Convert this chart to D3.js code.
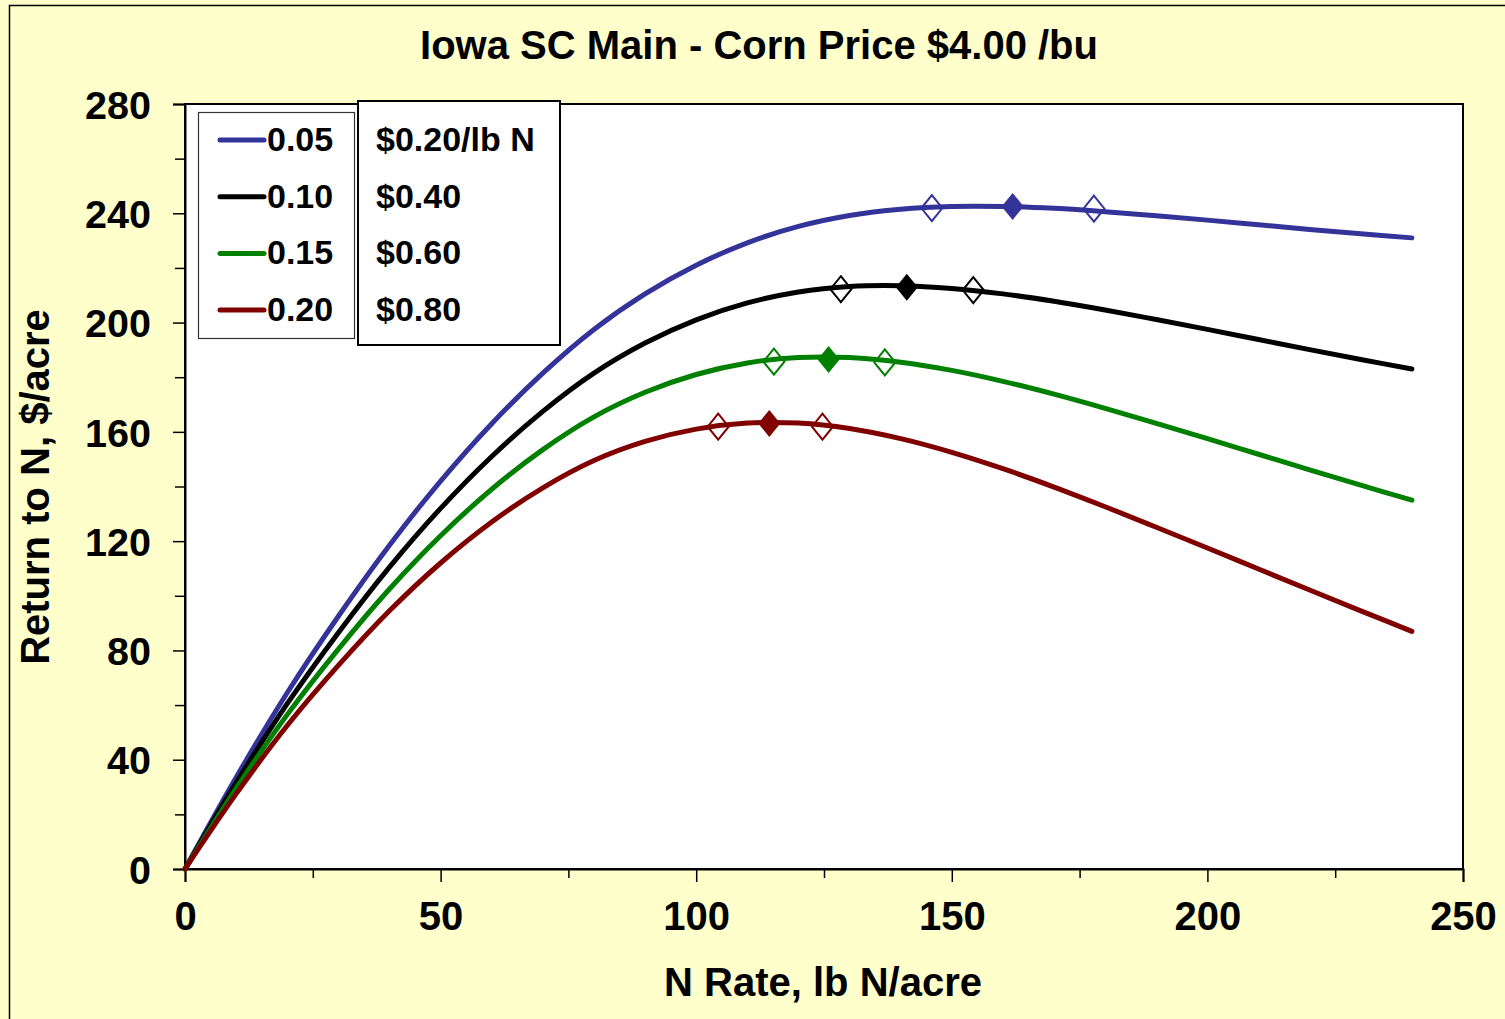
<!DOCTYPE html>
<html>
<head>
<meta charset="utf-8">
<script src="https://cdn.jsdelivr.net/npm/d3@7"></script>
<style>
  html, body { margin: 0; padding: 0; background: #ffffcc; }
  svg text { font-family: Arial, "Liberation Sans", sans-serif; font-weight: bold; fill: #000; }
</style>
</head>
<body>
<div id="chart"></div>
<script>
// N rates (lb N/acre) at which the curves were read
const nRates = [0, 10, 20, 30, 40, 50, 60, 70, 80, 90, 100, 110, 120,
	130, 140, 150, 160, 170, 180, 190, 200, 210, 220, 230, 240];

// Return to N ($/acre), one array per price ratio
const ratio005 = [0, 33.5, 64.5, 92.5, 118.5, 142, 163, 181.5, 197.5, 210.5, 221, 229.2, 235.2,
	239.2, 241.5, 242.5, 242.5, 241.8, 240.6, 239.1, 237.5, 235.8, 234.1, 232.5, 231.0];
const ratio010 = [0, 31.5, 60.5, 86.5, 110.5, 132, 151, 167.5, 181.5, 192.5, 201, 207.2, 211.2,
	213.2, 213.5, 212.5, 210.5, 207.8, 204.6, 201.1, 197.5, 193.8, 190.1, 186.5, 183.0];
const ratio015 = [0, 29.5, 56.5, 80.5, 102.5, 122, 139, 153.5, 165.5, 174.5, 181, 185.2, 187.2,
	187.2, 185.5, 182.5, 178.5, 173.8, 168.6, 163.1, 157.5, 151.8, 146.1, 140.5, 135.0];
const ratio020 = [0, 27.5, 52.5, 74.5, 94.5, 112, 127, 139.5, 149.5, 156.5, 161, 163.2, 163.2,
	161.2, 157.5, 152.5, 146.5, 139.8, 132.6, 125.1, 117.5, 109.8, 102.1, 94.5, 87.0];

// MRTN (filled diamond) and profitable range ends (open diamonds): [N, return]
const mrtn005 = [161.9, 242.5], range005 = [[146.1, 241.9], [177.8, 241.7]];
const mrtn010 = [141.2, 212.9], range010 = [[128.3, 212.2], [154.2, 211.9]];
const mrtn015 = [125.9, 186.5], range015 = [[115.2, 185.7], [136.9, 185.4]];
const mrtn020 = [114.3, 163.1], range020 = [[104.3, 161.9], [124.7, 161.9]];

const ratioLabels = ["0.05", "0.10", "0.15", "0.20"];
const priceLabels = ["$0.20/lb N", "$0.40", "$0.60", "$0.80"];
const colors = ["#333399", "#000000", "#008000", "#800000"];

const xTicks = [0, 50, 100, 150, 200, 250];
const xMinor = [25, 75, 125, 175, 225];
const yTicks = [0, 40, 80, 120, 160, 200, 240, 280];
const yMinor = [20, 60, 100, 140, 180, 220, 260];

const titleText = "Iowa SC Main - Corn Price $4.00 /bu";
const xTitle = "N Rate, lb N/acre";
const yTitle = "Return to N, $/acre";

const series = [
	{ label: ratioLabels[0], price: priceLabels[0], color: colors[0], values: ratio005, mrtn: mrtn005, range: range005 },
	{ label: ratioLabels[1], price: priceLabels[1], color: colors[1], values: ratio010, mrtn: mrtn010, range: range010 },
	{ label: ratioLabels[2], price: priceLabels[2], color: colors[2], values: ratio015, mrtn: mrtn015, range: range015 },
	{ label: ratioLabels[3], price: priceLabels[3], color: colors[3], values: ratio020, mrtn: mrtn020, range: range020 }
];

const params = {
	width: 1505, height: 1019,
	left: 185, right: 1463, top: 104, bottom: 869
};

const svg = d3.select("#chart").append("svg")
	.attr("width", params.width)
	.attr("height", params.height)

// outer frame
svg.append("rect")
	.attr("x", 9.5).attr("y", 5.5)
	.attr("width", 1510).attr("height", 1030)
	.attr("fill", "#ffffcc").attr("stroke", "#000").attr("stroke-width", 1.5)

const xScale = d3.scaleLinear().domain([0, 250]).range([params.left, params.right])
const yScale = d3.scaleLinear().domain([0, 280]).range([params.bottom, params.top])

// plot area
svg.append("rect")
	.attr("x", params.left).attr("y", params.top)
	.attr("width", params.right - params.left)
	.attr("height", params.bottom - params.top)
	.attr("fill", "#fff").attr("stroke", "#000").attr("stroke-width", 2)

// y axis
const yAxis = svg.append("g")
	.attr("transform", `translate(${params.left},0)`)
	.call(d3.axisLeft(yScale).tickValues(yTicks).tickSize(12).tickPadding(22).tickFormat(d3.format("d")))
yAxis.select(".domain").attr("stroke-width", 2)
yAxis.selectAll(".tick line").attr("stroke-width", 1.5)
yAxis.selectAll(".tick text").attr("font-size", 39.5).attr("dy", "0.36em")
	.attr("font-family", "Arial, 'Liberation Sans', sans-serif").attr("font-weight", "bold")
svg.append("g")
	.attr("transform", `translate(${params.left},0)`)
	.call(d3.axisLeft(yScale).tickValues(yMinor).tickSize(10).tickFormat(""))
	.call(g => g.select(".domain").remove())
	.selectAll(".tick line").attr("stroke-width", 1.5)

// x axis
const xAxis = svg.append("g")
	.attr("transform", `translate(0,${params.bottom})`)
	.call(d3.axisBottom(xScale).tickValues(xTicks).tickSize(13).tickPadding(20).tickFormat(d3.format("d")))
xAxis.select(".domain").attr("stroke-width", 2)
xAxis.selectAll(".tick line").attr("stroke-width", 1.5)
xAxis.selectAll(".tick text").attr("font-size", 40).attr("dy", "0.71em")
	.attr("font-family", "Arial, 'Liberation Sans', sans-serif").attr("font-weight", "bold")
svg.append("g")
	.attr("transform", `translate(0,${params.bottom})`)
	.call(d3.axisBottom(xScale).tickValues(xMinor).tickSize(9).tickFormat(""))
	.call(g => g.select(".domain").remove())
	.selectAll(".tick line").attr("stroke-width", 1.5)

// titles
svg.append("text")
	.attr("x", 759).attr("y", 59)
	.attr("text-anchor", "middle").attr("font-size", 40)
	.text(titleText)

svg.append("text")
	.attr("x", 823).attr("y", 996)
	.attr("text-anchor", "middle").attr("font-size", 40)
	.text(xTitle)

svg.append("text")
	.attr("transform", "translate(49,487) rotate(-90)")
	.attr("text-anchor", "middle").attr("font-size", 40)
	.text(yTitle)

// curves
const line = d3.line()
	.x((d, i) => xScale(nRates[i]))
	.y(d => yScale(d))
	.curve(d3.curveCatmullRom.alpha(0.5))

const diamond = (w, h) => `M0,${-h / 2}L${w / 2},0L0,${h / 2}L${-w / 2},0Z`

const groups = svg.append("g")
	.selectAll(".series")
	.data(series)
	.join("g")
	.attr("class", "series")

groups.append("path")
	.attr("d", d => line(d.values))
	.attr("fill", "none")
	.attr("stroke", d => d.color)
	.attr("stroke-width", 5)
	.attr("stroke-linecap", "round")
	.attr("stroke-linejoin", "round")

groups.selectAll(".open")
	.data(d => d.range.map(p => ({ p: p, color: d.color })))
	.join("path")
	.attr("class", "open")
	.attr("transform", d => `translate(${xScale(d.p[0])},${yScale(d.p[1])})`)
	.attr("d", diamond(21, 26))
	.attr("fill", "none")
	.attr("stroke", d => d.color)
	.attr("stroke-width", 2)

groups.append("path")
	.attr("transform", d => `translate(${xScale(d.mrtn[0])},${yScale(d.mrtn[1])})`)
	.attr("d", diamond(22, 27))
	.attr("fill", d => d.color)

// legend
const rowY = i => 140 + i * 56.7

svg.append("rect")
	.attr("x", 198.5).attr("y", 112.5).attr("width", 156).attr("height", 226)
	.attr("fill", "#fff").attr("stroke", "#333").attr("stroke-width", 1.2)
svg.append("rect")
	.attr("x", 358).attr("y", 101).attr("width", 202).attr("height", 244)
	.attr("fill", "#fff").attr("stroke", "#000").attr("stroke-width", 2)

const legend = svg.append("g")
	.selectAll("g")
	.data(series)
	.join("g")

legend.append("line")
	.attr("x1", 220).attr("x2", 264)
	.attr("y1", (d, i) => rowY(i)).attr("y2", (d, i) => rowY(i))
	.attr("stroke", d => d.color).attr("stroke-width", 5)
	.attr("stroke-linecap", "round")

legend.append("text")
	.attr("x", 267).attr("y", (d, i) => rowY(i) + 11)
	.attr("font-size", 34)
	.text(d => d.label)

legend.append("text")
	.attr("x", 376).attr("y", (d, i) => rowY(i) + 11)
	.attr("font-size", 34)
	.text(d => d.price)
</script>
</body>
</html>
